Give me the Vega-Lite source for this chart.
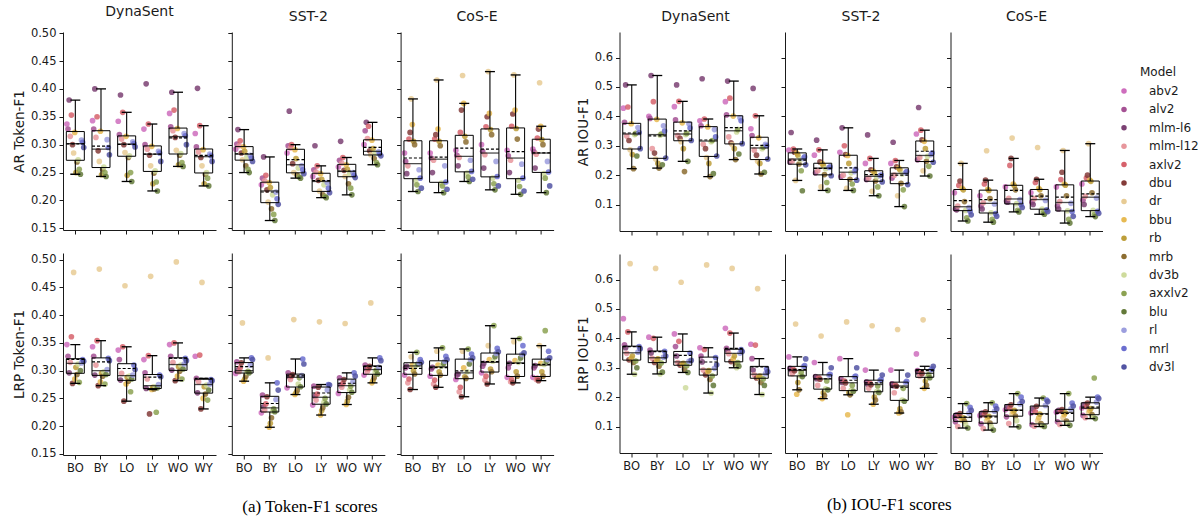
{
"$schema": "https://vega.github.io/schema/vega-lite/v6.json",
"padding": {"left": 12, "top": 5, "right": 3, "bottom": 3},
"background": "white",
"datasets": {
"tAR_Dyna": [
{"model":"abv2","BO":0.337,"BY":0.343,"LO":0.342,"LY":0.328,"WO":0.356,"WY":0.320},
{"model":"alv2","BO":0.328,"BY":0.328,"LO":0.318,"LY":0.300,"WO":0.332,"WY":0.296},
{"model":"mlm-l6","BO":0.380,"BY":0.400,"LO":0.389,"LY":0.409,"WO":0.394,"WY":0.401},
{"model":"mlm-l12","BO":0.315,"BY":0.313,"LO":0.310,"LY":0.292,"WO":0.325,"WY":0.287},
{"model":"axlv2","BO":0.353,"BY":0.350,"LO":0.358,"LY":0.337,"WO":0.362,"WY":0.334},
{"model":"dbu","BO":0.300,"BY":0.289,"LO":0.300,"LY":0.281,"WO":0.313,"WY":0.277},
{"model":"dr","BO":0.285,"BY":0.270,"LO":0.286,"LY":0.262,"WO":0.290,"WY":0.262},
{"model":"bbu","BO":0.322,"BY":0.324,"LO":0.315,"LY":0.297,"WO":0.329,"WY":0.291},
{"model":"rb","BO":0.250,"BY":0.246,"LO":0.245,"LY":0.230,"WO":0.264,"WY":0.230},
{"model":"mrb","BO":0.269,"BY":0.256,"LO":0.277,"LY":0.249,"WO":0.281,"WY":0.247},
{"model":"dv3b","BO":0.273,"BY":0.260,"LO":0.280,"LY":0.253,"WO":0.284,"WY":0.250},
{"model":"axxlv2","BO":0.256,"BY":0.250,"LO":0.250,"LY":0.233,"WO":0.268,"WY":0.240},
{"model":"blu","BO":0.247,"BY":0.243,"LO":0.234,"LY":0.217,"WO":0.261,"WY":0.226},
{"model":"rl","BO":0.308,"BY":0.309,"LO":0.305,"LY":0.288,"WO":0.320,"WY":0.283},
{"model":"mrl","BO":0.304,"BY":0.295,"LO":0.302,"LY":0.285,"WO":0.316,"WY":0.280},
{"model":"dv3l","BO":0.295,"BY":0.282,"LO":0.296,"LY":0.270,"WO":0.300,"WY":0.270}
],
"tAR_SST": [
{"model":"abv2","BO":0.292,"BY":0.228,"LO":0.285,"LY":0.243,"WO":0.260,"WY":0.300},
{"model":"alv2","BO":0.301,"BY":0.240,"LO":0.298,"LY":0.255,"WO":0.272,"WY":0.325},
{"model":"mlm-l6","BO":0.327,"BY":0.278,"LO":0.360,"LY":0.298,"WO":0.306,"WY":0.340},
{"model":"mlm-l12","BO":0.298,"BY":0.235,"LO":0.294,"LY":0.251,"WO":0.267,"WY":0.311},
{"model":"axlv2","BO":0.307,"BY":0.245,"LO":0.300,"LY":0.262,"WO":0.277,"WY":0.333},
{"model":"dbu","BO":0.285,"BY":0.219,"LO":0.266,"LY":0.236,"WO":0.254,"WY":0.289},
{"model":"dr","BO":0.273,"BY":0.197,"LO":0.250,"LY":0.217,"WO":0.243,"WY":0.282},
{"model":"bbu","BO":0.296,"BY":0.232,"LO":0.291,"LY":0.248,"WO":0.264,"WY":0.308},
{"model":"rb","BO":0.288,"BY":0.223,"LO":0.275,"LY":0.238,"WO":0.256,"WY":0.293},
{"model":"mrb","BO":0.262,"BY":0.185,"LO":0.245,"LY":0.210,"WO":0.230,"WY":0.275},
{"model":"dv3b","BO":0.278,"BY":0.210,"LO":0.258,"LY":0.228,"WO":0.248,"WY":0.285},
{"model":"axxlv2","BO":0.256,"BY":0.175,"LO":0.242,"LY":0.207,"WO":0.222,"WY":0.268},
{"model":"blu","BO":0.250,"BY":0.164,"LO":0.240,"LY":0.205,"WO":0.210,"WY":0.264},
{"model":"rl","BO":0.281,"BY":0.215,"LO":0.262,"LY":0.232,"WO":0.250,"WY":0.287},
{"model":"mrl","BO":0.276,"BY":0.203,"LO":0.255,"LY":0.222,"WO":0.245,"WY":0.283},
{"model":"dv3l","BO":0.270,"BY":0.193,"LO":0.248,"LY":0.214,"WO":0.241,"WY":0.280}
],
"tAR_CoSE": [
{"model":"abv2","BO":0.285,"BY":0.285,"LO":0.290,"LY":0.300,"WO":0.290,"WY":0.292},
{"model":"alv2","BO":0.270,"BY":0.276,"LO":0.281,"LY":0.288,"WO":0.280,"WY":0.287},
{"model":"mlm-l6","BO":0.248,"BY":0.250,"LO":0.262,"LY":0.258,"WO":0.250,"WY":0.258},
{"model":"mlm-l12","BO":0.262,"BY":0.272,"LO":0.277,"LY":0.282,"WO":0.272,"WY":0.283},
{"model":"axlv2","BO":0.310,"BY":0.310,"LO":0.322,"LY":0.332,"WO":0.333,"WY":0.312},
{"model":"dbu","BO":0.322,"BY":0.318,"LO":0.362,"LY":0.350,"WO":0.355,"WY":0.328},
{"model":"dr","BO":0.382,"BY":0.416,"LO":0.424,"LY":0.431,"WO":0.425,"WY":0.411},
{"model":"bbu","BO":0.336,"BY":0.328,"LO":0.374,"LY":0.356,"WO":0.362,"WY":0.333},
{"model":"rb","BO":0.306,"BY":0.306,"LO":0.315,"LY":0.327,"WO":0.329,"WY":0.309},
{"model":"mrb","BO":0.300,"BY":0.298,"LO":0.305,"LY":0.318,"WO":0.310,"WY":0.300},
{"model":"dv3b","BO":0.236,"BY":0.231,"LO":0.249,"LY":0.240,"WO":0.236,"WY":0.248},
{"model":"axxlv2","BO":0.228,"BY":0.226,"LO":0.242,"LY":0.230,"WO":0.225,"WY":0.240},
{"model":"blu","BO":0.216,"BY":0.214,"LO":0.234,"LY":0.219,"WO":0.211,"WY":0.214},
{"model":"rl","BO":0.255,"BY":0.262,"LO":0.272,"LY":0.270,"WO":0.265,"WY":0.270},
{"model":"mrl","BO":0.240,"BY":0.233,"LO":0.252,"LY":0.243,"WO":0.240,"WY":0.251},
{"model":"dv3l","BO":0.222,"BY":0.220,"LO":0.238,"LY":0.226,"WO":0.217,"WY":0.226}
],
"tLRP_Dyna": [
{"model":"abv2","BO":0.347,"BY":0.343,"LO":0.337,"LY":0.320,"WO":0.347,"WY":0.326},
{"model":"alv2","BO":0.326,"BY":0.326,"LO":0.320,"LY":0.296,"WO":0.326,"WY":0.286},
{"model":"mlm-l6","BO":0.296,"BY":0.292,"LO":0.283,"LY":0.268,"WO":0.301,"WY":0.260},
{"model":"mlm-l12","BO":0.315,"BY":0.310,"LO":0.295,"LY":0.285,"WO":0.315,"WY":0.280},
{"model":"axlv2","BO":0.361,"BY":0.354,"LO":0.343,"LY":0.327,"WO":0.350,"WY":0.328},
{"model":"dbu","BO":0.277,"BY":0.273,"LO":0.245,"LY":0.222,"WO":0.282,"WY":0.231},
{"model":"dr","BO":0.477,"BY":0.483,"LO":0.453,"LY":0.470,"WO":0.496,"WY":0.459},
{"model":"bbu","BO":0.285,"BY":0.280,"LO":0.276,"LY":0.266,"WO":0.290,"WY":0.250},
{"model":"rb","BO":0.306,"BY":0.295,"LO":0.288,"LY":0.270,"WO":0.307,"WY":0.271},
{"model":"mrb","BO":0.293,"BY":0.290,"LO":0.281,"LY":0.267,"WO":0.299,"WY":0.258},
{"model":"dv3b","BO":0.312,"BY":0.298,"LO":0.290,"LY":0.271,"WO":0.310,"WY":0.274},
{"model":"axxlv2","BO":0.279,"BY":0.276,"LO":0.262,"LY":0.225,"WO":0.285,"WY":0.247},
{"model":"blu","BO":0.300,"BY":0.293,"LO":0.285,"LY":0.269,"WO":0.303,"WY":0.265},
{"model":"rl","BO":0.314,"BY":0.302,"LO":0.292,"LY":0.275,"WO":0.312,"WY":0.276},
{"model":"mrl","BO":0.320,"BY":0.322,"LO":0.310,"LY":0.292,"WO":0.322,"WY":0.284},
{"model":"dv3l","BO":0.317,"BY":0.318,"LO":0.302,"LY":0.289,"WO":0.318,"WY":0.282}
],
"tLRP_SST": [
{"model":"abv2","BO":0.295,"BY":0.224,"LO":0.269,"LY":0.238,"WO":0.259,"WY":0.292},
{"model":"alv2","BO":0.316,"BY":0.256,"LO":0.296,"LY":0.272,"WO":0.287,"WY":0.310},
{"model":"mlm-l6","BO":0.301,"BY":0.235,"LO":0.289,"LY":0.254,"WO":0.274,"WY":0.303},
{"model":"mlm-l12","BO":0.298,"BY":0.229,"LO":0.284,"LY":0.247,"WO":0.270,"WY":0.299},
{"model":"axlv2","BO":0.305,"BY":0.240,"LO":0.290,"LY":0.258,"WO":0.277,"WY":0.304},
{"model":"dbu","BO":0.314,"BY":0.253,"LO":0.293,"LY":0.270,"WO":0.284,"WY":0.308},
{"model":"dr","BO":0.386,"BY":0.323,"LO":0.392,"LY":0.388,"WO":0.385,"WY":0.422},
{"model":"bbu","BO":0.281,"BY":0.198,"LO":0.257,"LY":0.220,"WO":0.239,"WY":0.278},
{"model":"rb","BO":0.285,"BY":0.205,"LO":0.260,"LY":0.228,"WO":0.245,"WY":0.282},
{"model":"mrb","BO":0.290,"BY":0.215,"LO":0.264,"LY":0.233,"WO":0.252,"WY":0.287},
{"model":"dv3b","BO":0.297,"BY":0.227,"LO":0.276,"LY":0.243,"WO":0.265,"WY":0.297},
{"model":"axxlv2","BO":0.299,"BY":0.231,"LO":0.287,"LY":0.250,"WO":0.272,"WY":0.301},
{"model":"blu","BO":0.296,"BY":0.226,"LO":0.271,"LY":0.240,"WO":0.261,"WY":0.294},
{"model":"rl","BO":0.310,"BY":0.248,"LO":0.291,"LY":0.265,"WO":0.280,"WY":0.306},
{"model":"mrl","BO":0.323,"BY":0.278,"LO":0.321,"LY":0.275,"WO":0.296,"WY":0.323},
{"model":"dv3l","BO":0.320,"BY":0.265,"LO":0.312,"LY":0.274,"WO":0.290,"WY":0.318}
],
"tLRP_CoSE": [
{"model":"abv2","BO":0.292,"BY":0.290,"LO":0.284,"LY":0.296,"WO":0.288,"WY":0.288},
{"model":"alv2","BO":0.305,"BY":0.303,"LO":0.292,"LY":0.308,"WO":0.305,"WY":0.305},
{"model":"mlm-l6","BO":0.308,"BY":0.306,"LO":0.294,"LY":0.313,"WO":0.313,"WY":0.309},
{"model":"mlm-l12","BO":0.278,"BY":0.276,"LO":0.262,"LY":0.283,"WO":0.280,"WY":0.284},
{"model":"axlv2","BO":0.285,"BY":0.283,"LO":0.270,"LY":0.290,"WO":0.284,"WY":0.286},
{"model":"dbu","BO":0.266,"BY":0.270,"LO":0.253,"LY":0.276,"WO":0.278,"WY":0.282},
{"model":"dr","BO":0.325,"BY":0.335,"LO":0.335,"LY":0.345,"WO":0.352,"WY":0.345},
{"model":"bbu","BO":0.310,"BY":0.310,"LO":0.305,"LY":0.320,"WO":0.318,"WY":0.313},
{"model":"rb","BO":0.300,"BY":0.298,"LO":0.289,"LY":0.303,"WO":0.298,"WY":0.298},
{"model":"mrb","BO":0.294,"BY":0.292,"LO":0.286,"LY":0.298,"WO":0.290,"WY":0.290},
{"model":"dv3b","BO":0.309,"BY":0.308,"LO":0.298,"LY":0.317,"WO":0.315,"WY":0.311},
{"model":"axxlv2","BO":0.333,"BY":0.341,"LO":0.339,"LY":0.381,"WO":0.358,"WY":0.372},
{"model":"blu","BO":0.312,"BY":0.313,"LO":0.312,"LY":0.325,"WO":0.323,"WY":0.317},
{"model":"rl","BO":0.314,"BY":0.317,"LO":0.320,"LY":0.331,"WO":0.329,"WY":0.320},
{"model":"mrl","BO":0.320,"BY":0.326,"LO":0.330,"LY":0.340,"WO":0.345,"WY":0.335},
{"model":"dv3l","BO":0.315,"BY":0.320,"LO":0.323,"LY":0.334,"WO":0.332,"WY":0.323}
],
"iAR_Dyna": [
{"model":"abv2","BO":0.428,"BY":0.400,"LO":0.433,"LY":0.385,"WO":0.450,"WY":0.358},
{"model":"alv2","BO":0.380,"BY":0.393,"LO":0.388,"LY":0.368,"WO":0.405,"WY":0.335},
{"model":"mlm-l6","BO":0.507,"BY":0.539,"LO":0.507,"LY":0.528,"WO":0.520,"WY":0.495},
{"model":"mlm-l12","BO":0.333,"BY":0.290,"LO":0.335,"LY":0.305,"WO":0.330,"WY":0.285},
{"model":"axlv2","BO":0.432,"BY":0.450,"LO":0.451,"LY":0.391,"WO":0.462,"WY":0.402},
{"model":"dbu","BO":0.318,"BY":0.275,"LO":0.325,"LY":0.290,"WO":0.310,"WY":0.268},
{"model":"dr","BO":0.286,"BY":0.255,"LO":0.314,"LY":0.260,"WO":0.304,"WY":0.247},
{"model":"bbu","BO":0.375,"BY":0.390,"LO":0.378,"LY":0.364,"WO":0.401,"WY":0.327},
{"model":"rb","BO":0.270,"BY":0.240,"LO":0.290,"LY":0.240,"WO":0.290,"WY":0.240},
{"model":"mrb","BO":0.222,"BY":0.224,"LO":0.212,"LY":0.195,"WO":0.253,"WY":0.204},
{"model":"dv3b","BO":0.338,"BY":0.336,"LO":0.338,"LY":0.314,"WO":0.347,"WY":0.290},
{"model":"axxlv2","BO":0.342,"BY":0.340,"LO":0.342,"LY":0.318,"WO":0.355,"WY":0.295},
{"model":"blu","BO":0.265,"BY":0.235,"LO":0.247,"LY":0.205,"WO":0.272,"WY":0.210},
{"model":"rl","BO":0.362,"BY":0.368,"LO":0.375,"LY":0.355,"WO":0.395,"WY":0.305},
{"model":"mrl","BO":0.345,"BY":0.350,"LO":0.360,"LY":0.330,"WO":0.385,"WY":0.300},
{"model":"dv3l","BO":0.290,"BY":0.258,"LO":0.318,"LY":0.265,"WO":0.307,"WY":0.255}
],
"iAR_SST": [
{"model":"abv2","BO":0.285,"BY":0.268,"LO":0.278,"LY":0.240,"WO":0.240,"WY":0.340},
{"model":"alv2","BO":0.245,"BY":0.208,"LO":0.195,"LY":0.185,"WO":0.190,"WY":0.252},
{"model":"mlm-l6","BO":0.345,"BY":0.319,"LO":0.361,"LY":0.337,"WO":0.312,"WY":0.430},
{"model":"mlm-l12","BO":0.248,"BY":0.215,"LO":0.200,"LY":0.190,"WO":0.200,"WY":0.260},
{"model":"axlv2","BO":0.289,"BY":0.286,"LO":0.300,"LY":0.257,"WO":0.250,"WY":0.353},
{"model":"dbu","BO":0.278,"BY":0.245,"LO":0.270,"LY":0.218,"WO":0.228,"WY":0.320},
{"model":"dr","BO":0.182,"BY":0.160,"LO":0.155,"LY":0.145,"WO":0.130,"WY":0.215},
{"model":"bbu","BO":0.275,"BY":0.239,"LO":0.267,"LY":0.214,"WO":0.224,"WY":0.315},
{"model":"rb","BO":0.268,"BY":0.233,"LO":0.240,"LY":0.208,"WO":0.218,"WY":0.290},
{"model":"mrb","BO":0.238,"BY":0.202,"LO":0.186,"LY":0.180,"WO":0.172,"WY":0.247},
{"model":"dv3b","BO":0.253,"BY":0.222,"LO":0.208,"LY":0.194,"WO":0.204,"WY":0.264},
{"model":"axxlv2","BO":0.215,"BY":0.175,"LO":0.170,"LY":0.160,"WO":0.150,"WY":0.230},
{"model":"blu","BO":0.147,"BY":0.148,"LO":0.148,"LY":0.130,"WO":0.093,"WY":0.197},
{"model":"rl","BO":0.257,"BY":0.226,"LO":0.212,"LY":0.198,"WO":0.208,"WY":0.270},
{"model":"mrl","BO":0.262,"BY":0.228,"LO":0.220,"LY":0.200,"WO":0.212,"WY":0.275},
{"model":"dv3l","BO":0.235,"BY":0.198,"LO":0.183,"LY":0.177,"WO":0.168,"WY":0.244}
],
"iAR_CoSE": [
{"model":"abv2","BO":0.140,"BY":0.130,"LO":0.160,"LY":0.140,"WO":0.160,"WY":0.170},
{"model":"alv2","BO":0.085,"BY":0.095,"LO":0.112,"LY":0.108,"WO":0.095,"WY":0.115},
{"model":"mlm-l6","BO":0.082,"BY":0.085,"LO":0.108,"LY":0.100,"WO":0.085,"WY":0.100},
{"model":"mlm-l12","BO":0.095,"BY":0.106,"LO":0.121,"LY":0.120,"WO":0.110,"WY":0.128},
{"model":"axlv2","BO":0.165,"BY":0.170,"LO":0.233,"LY":0.175,"WO":0.185,"WY":0.190},
{"model":"dbu","BO":0.180,"BY":0.183,"LO":0.257,"LY":0.186,"WO":0.210,"WY":0.200},
{"model":"dr","BO":0.240,"BY":0.283,"LO":0.326,"LY":0.294,"WO":0.284,"WY":0.307},
{"model":"bbu","BO":0.155,"BY":0.152,"LO":0.170,"LY":0.155,"WO":0.170,"WY":0.183},
{"model":"rb","BO":0.150,"BY":0.148,"LO":0.164,"LY":0.150,"WO":0.166,"WY":0.179},
{"model":"mrb","BO":0.110,"BY":0.120,"LO":0.150,"LY":0.130,"WO":0.130,"WY":0.140},
{"model":"dv3b","BO":0.080,"BY":0.072,"LO":0.103,"LY":0.085,"WO":0.079,"WY":0.080},
{"model":"axxlv2","BO":0.055,"BY":0.050,"LO":0.080,"LY":0.072,"WO":0.050,"WY":0.065},
{"model":"blu","BO":0.044,"BY":0.040,"LO":0.075,"LY":0.067,"WO":0.037,"WY":0.059},
{"model":"rl","BO":0.090,"BY":0.102,"LO":0.117,"LY":0.114,"WO":0.104,"WY":0.122},
{"model":"mrl","BO":0.077,"BY":0.069,"LO":0.100,"LY":0.082,"WO":0.076,"WY":0.077},
{"model":"dv3l","BO":0.065,"BY":0.060,"LO":0.090,"LY":0.076,"WO":0.060,"WY":0.070}
],
"iLRP_Dyna": [
{"model":"abv2","BO":0.467,"BY":0.404,"LO":0.415,"LY":0.368,"WO":0.434,"WY":0.380},
{"model":"alv2","BO":0.378,"BY":0.360,"LO":0.372,"LY":0.340,"WO":0.366,"WY":0.331},
{"model":"mlm-l6","BO":0.368,"BY":0.350,"LO":0.340,"LY":0.320,"WO":0.358,"WY":0.292},
{"model":"mlm-l12","BO":0.349,"BY":0.332,"LO":0.318,"LY":0.292,"WO":0.348,"WY":0.276},
{"model":"axlv2","BO":0.422,"BY":0.400,"LO":0.390,"LY":0.362,"WO":0.418,"WY":0.377},
{"model":"dbu","BO":0.327,"BY":0.318,"LO":0.309,"LY":0.276,"WO":0.321,"WY":0.265},
{"model":"dr","BO":0.654,"BY":0.638,"LO":0.591,"LY":0.650,"WO":0.638,"WY":0.569},
{"model":"bbu","BO":0.332,"BY":0.325,"LO":0.312,"LY":0.287,"WO":0.330,"WY":0.268},
{"model":"rb","BO":0.340,"BY":0.330,"LO":0.315,"LY":0.290,"WO":0.340,"WY":0.272},
{"model":"mrb","BO":0.318,"BY":0.305,"LO":0.295,"LY":0.260,"WO":0.310,"WY":0.250},
{"model":"dv3b","BO":0.278,"BY":0.279,"LO":0.232,"LY":0.214,"WO":0.300,"WY":0.209},
{"model":"axxlv2","BO":0.323,"BY":0.316,"LO":0.307,"LY":0.272,"WO":0.318,"WY":0.262},
{"model":"blu","BO":0.300,"BY":0.285,"LO":0.284,"LY":0.240,"WO":0.305,"WY":0.240},
{"model":"rl","BO":0.353,"BY":0.336,"LO":0.322,"LY":0.298,"WO":0.350,"WY":0.280},
{"model":"mrl","BO":0.372,"BY":0.356,"LO":0.350,"LY":0.335,"WO":0.362,"WY":0.296},
{"model":"dv3l","BO":0.365,"BY":0.340,"LO":0.325,"LY":0.310,"WO":0.355,"WY":0.286}
],
"iLRP_SST": [
{"model":"abv2","BO":0.337,"BY":0.318,"LO":0.331,"LY":0.292,"WO":0.292,"WY":0.347},
{"model":"alv2","BO":0.298,"BY":0.270,"LO":0.262,"LY":0.252,"WO":0.245,"WY":0.290},
{"model":"mlm-l6","BO":0.292,"BY":0.263,"LO":0.250,"LY":0.244,"WO":0.239,"WY":0.282},
{"model":"mlm-l12","BO":0.280,"BY":0.240,"LO":0.230,"LY":0.230,"WO":0.215,"WY":0.272},
{"model":"axlv2","BO":0.294,"BY":0.266,"LO":0.255,"LY":0.248,"WO":0.241,"WY":0.285},
{"model":"dbu","BO":0.290,"BY":0.261,"LO":0.248,"LY":0.242,"WO":0.237,"WY":0.280},
{"model":"dr","BO":0.449,"BY":0.408,"LO":0.456,"LY":0.443,"WO":0.430,"WY":0.463},
{"model":"bbu","BO":0.210,"BY":0.195,"LO":0.140,"LY":0.176,"WO":0.146,"WY":0.230},
{"model":"rb","BO":0.250,"BY":0.215,"LO":0.215,"LY":0.200,"WO":0.160,"WY":0.255},
{"model":"mrb","BO":0.225,"BY":0.205,"LO":0.208,"LY":0.190,"WO":0.150,"WY":0.240},
{"model":"dv3b","BO":0.273,"BY":0.228,"LO":0.223,"LY":0.219,"WO":0.190,"WY":0.268},
{"model":"axxlv2","BO":0.285,"BY":0.255,"LO":0.240,"LY":0.238,"WO":0.230,"WY":0.277},
{"model":"blu","BO":0.270,"BY":0.225,"LO":0.220,"LY":0.216,"WO":0.186,"WY":0.266},
{"model":"rl","BO":0.304,"BY":0.275,"LO":0.269,"LY":0.257,"WO":0.250,"WY":0.293},
{"model":"mrl","BO":0.307,"BY":0.278,"LO":0.272,"LY":0.260,"WO":0.254,"WY":0.296},
{"model":"dv3l","BO":0.330,"BY":0.300,"LO":0.300,"LY":0.275,"WO":0.275,"WY":0.305}
],
"iLRP_CoSE": [
{"model":"abv2","BO":0.132,"BY":0.137,"LO":0.157,"LY":0.146,"WO":0.149,"WY":0.163},
{"model":"alv2","BO":0.116,"BY":0.109,"LO":0.133,"LY":0.106,"WO":0.116,"WY":0.138},
{"model":"mlm-l6","BO":0.140,"BY":0.146,"LO":0.168,"LY":0.160,"WO":0.155,"WY":0.175},
{"model":"mlm-l12","BO":0.100,"BY":0.093,"LO":0.110,"LY":0.101,"WO":0.107,"WY":0.130},
{"model":"axlv2","BO":0.135,"BY":0.140,"LO":0.162,"LY":0.150,"WO":0.152,"WY":0.168},
{"model":"dbu","BO":0.144,"BY":0.150,"LO":0.174,"LY":0.169,"WO":0.158,"WY":0.180},
{"model":"dr","BO":0.122,"BY":0.120,"LO":0.142,"LY":0.120,"WO":0.130,"WY":0.148},
{"model":"bbu","BO":0.127,"BY":0.130,"LO":0.150,"LY":0.130,"WO":0.140,"WY":0.155},
{"model":"rb","BO":0.130,"BY":0.135,"LO":0.155,"LY":0.142,"WO":0.147,"WY":0.161},
{"model":"mrb","BO":0.118,"BY":0.112,"LO":0.136,"LY":0.110,"WO":0.119,"WY":0.141},
{"model":"dv3b","BO":0.108,"BY":0.100,"LO":0.120,"LY":0.103,"WO":0.110,"WY":0.133},
{"model":"axxlv2","BO":0.178,"BY":0.181,"LO":0.212,"LY":0.197,"WO":0.212,"WY":0.265},
{"model":"blu","BO":0.095,"BY":0.088,"LO":0.099,"LY":0.100,"WO":0.104,"WY":0.127},
{"model":"rl","BO":0.146,"BY":0.152,"LO":0.177,"LY":0.172,"WO":0.160,"WY":0.183},
{"model":"mrl","BO":0.165,"BY":0.170,"LO":0.200,"LY":0.190,"WO":0.180,"WY":0.200},
{"model":"dv3l","BO":0.155,"BY":0.160,"LO":0.185,"LY":0.185,"WO":0.170,"WY":0.195}
]
},
"hconcat": [
{"vconcat": [
 {"hconcat": [
  {"data":{"name":"tAR_Dyna"},"transform":[{"fold":["BO","BY","LO","LY","WO","WY"],"as":["cond","value"]}],"title":"DynaSent","width":153,"height":198,
   "encoding":{"x":{"field":"cond","type":"nominal","scale":{"paddingInner":0.3,"paddingOuter":0.13},"axis":{"title":null,"labels":false}},"y":{"field":"value","type":"quantitative","scale":{"domain":[0.147,0.502],"nice":false,"zero":false},"axis":{"title":"AR Token-F1","values":[0.15,0.2,0.25,0.3,0.35,0.4,0.45,0.5],"format":".2f"}}},
   "layer":[
    {"mark":"circle","encoding":{"color":{"field":"model","type":"nominal","sort":null,"title":"Model","legend":{"orient":"none","legendX":1055,"legendY":35}},"xOffset":{"field":"model","type":"nominal","sort":null}}},
    {"mark":"boxplot"},
    {"mark":{"type":"rule","strokeDash":[3,2],"color":"black","strokeWidth":1.2},"encoding":{"x":{"field":"cond","type":"nominal","bandPosition":0,"scale":{"paddingInner":0.3,"paddingOuter":0.13},"axis":{"title":null,"labels":false}},"x2":{"field":"cond","bandPosition":1},"y":{"aggregate":"mean","field":"value","type":"quantitative","scale":{"domain":[0.147,0.502],"nice":false,"zero":false},"axis":{"title":"AR Token-F1","values":[0.15,0.2,0.25,0.3,0.35,0.4,0.45,0.5],"format":".2f"}}}}
   ]},
  {"data":{"name":"tAR_SST"},"transform":[{"fold":["BO","BY","LO","LY","WO","WY"],"as":["cond","value"]}],"title":"SST-2","width":153,"height":198,
   "encoding":{"x":{"field":"cond","type":"nominal","scale":{"paddingInner":0.3,"paddingOuter":0.13},"axis":{"title":null,"labels":false}},"y":{"field":"value","type":"quantitative","scale":{"domain":[0.147,0.502],"nice":false,"zero":false},"axis":{"title":null,"labels":false,"values":[0.15,0.2,0.25,0.3,0.35,0.4,0.45,0.5]}}},
   "layer":[
    {"mark":"circle","encoding":{"color":{"field":"model","type":"nominal","sort":null,"title":"Model"},"xOffset":{"field":"model","type":"nominal","sort":null}}},
    {"mark":"boxplot"},
    {"mark":{"type":"rule","strokeDash":[3,2],"color":"black","strokeWidth":1.2},"encoding":{"x":{"field":"cond","type":"nominal","bandPosition":0,"scale":{"paddingInner":0.3,"paddingOuter":0.13},"axis":{"title":null,"labels":false}},"x2":{"field":"cond","bandPosition":1},"y":{"aggregate":"mean","field":"value","type":"quantitative","scale":{"domain":[0.147,0.502],"nice":false,"zero":false},"axis":{"title":null,"labels":false,"values":[0.15,0.2,0.25,0.3,0.35,0.4,0.45,0.5]}}}}
   ]},
  {"data":{"name":"tAR_CoSE"},"transform":[{"fold":["BO","BY","LO","LY","WO","WY"],"as":["cond","value"]}],"title":"CoS-E","width":153,"height":198,
   "encoding":{"x":{"field":"cond","type":"nominal","scale":{"paddingInner":0.3,"paddingOuter":0.13},"axis":{"title":null,"labels":false}},"y":{"field":"value","type":"quantitative","scale":{"domain":[0.147,0.502],"nice":false,"zero":false},"axis":{"title":null,"labels":false,"values":[0.15,0.2,0.25,0.3,0.35,0.4,0.45,0.5]}}},
   "layer":[
    {"mark":"circle","encoding":{"color":{"field":"model","type":"nominal","sort":null,"title":"Model"},"xOffset":{"field":"model","type":"nominal","sort":null}}},
    {"mark":"boxplot"},
    {"mark":{"type":"rule","strokeDash":[3,2],"color":"black","strokeWidth":1.2},"encoding":{"x":{"field":"cond","type":"nominal","bandPosition":0,"scale":{"paddingInner":0.3,"paddingOuter":0.13},"axis":{"title":null,"labels":false}},"x2":{"field":"cond","bandPosition":1},"y":{"aggregate":"mean","field":"value","type":"quantitative","scale":{"domain":[0.147,0.502],"nice":false,"zero":false},"axis":{"title":null,"labels":false,"values":[0.15,0.2,0.25,0.3,0.35,0.4,0.45,0.5]}}}}
   ]}
 ], "spacing": 10.8},
 {"hconcat": [
  {"data":{"name":"tLRP_Dyna"},"transform":[{"fold":["BO","BY","LO","LY","WO","WY"],"as":["cond","value"]}],"width":153,"height":202,
   "encoding":{"x":{"field":"cond","type":"nominal","scale":{"paddingInner":0.3,"paddingOuter":0.13},"axis":{"title":null}},"y":{"field":"value","type":"quantitative","scale":{"domain":[0.148,0.512],"nice":false,"zero":false},"axis":{"title":"LRP Token-F1","values":[0.15,0.2,0.25,0.3,0.35,0.4,0.45,0.5],"format":".2f"}}},
   "layer":[
    {"mark":"circle","encoding":{"color":{"field":"model","type":"nominal","sort":null,"title":"Model"},"xOffset":{"field":"model","type":"nominal","sort":null}}},
    {"mark":"boxplot"},
    {"mark":{"type":"rule","strokeDash":[3,2],"color":"black","strokeWidth":1.2},"encoding":{"x":{"field":"cond","type":"nominal","bandPosition":0,"scale":{"paddingInner":0.3,"paddingOuter":0.13},"axis":{"title":null}},"x2":{"field":"cond","bandPosition":1},"y":{"aggregate":"mean","field":"value","type":"quantitative","scale":{"domain":[0.148,0.512],"nice":false,"zero":false},"axis":{"title":"LRP Token-F1","values":[0.15,0.2,0.25,0.3,0.35,0.4,0.45,0.5],"format":".2f"}}}}
   ]},
  {"data":{"name":"tLRP_SST"},"transform":[{"fold":["BO","BY","LO","LY","WO","WY"],"as":["cond","value"]}],"width":153,"height":202,
   "encoding":{"x":{"field":"cond","type":"nominal","scale":{"paddingInner":0.3,"paddingOuter":0.13},"axis":{"title":null}},"y":{"field":"value","type":"quantitative","scale":{"domain":[0.148,0.512],"nice":false,"zero":false},"axis":{"title":null,"labels":false,"values":[0.15,0.2,0.25,0.3,0.35,0.4,0.45,0.5]}}},
   "layer":[
    {"mark":"circle","encoding":{"color":{"field":"model","type":"nominal","sort":null,"title":"Model"},"xOffset":{"field":"model","type":"nominal","sort":null}}},
    {"mark":"boxplot"},
    {"mark":{"type":"rule","strokeDash":[3,2],"color":"black","strokeWidth":1.2},"encoding":{"x":{"field":"cond","type":"nominal","bandPosition":0,"scale":{"paddingInner":0.3,"paddingOuter":0.13},"axis":{"title":null}},"x2":{"field":"cond","bandPosition":1},"y":{"aggregate":"mean","field":"value","type":"quantitative","scale":{"domain":[0.148,0.512],"nice":false,"zero":false},"axis":{"title":null,"labels":false,"values":[0.15,0.2,0.25,0.3,0.35,0.4,0.45,0.5]}}}}
   ]},
  {"data":{"name":"tLRP_CoSE"},"transform":[{"fold":["BO","BY","LO","LY","WO","WY"],"as":["cond","value"]}],"width":153,"height":202,
   "encoding":{"x":{"field":"cond","type":"nominal","scale":{"paddingInner":0.3,"paddingOuter":0.13},"axis":{"title":null}},"y":{"field":"value","type":"quantitative","scale":{"domain":[0.148,0.512],"nice":false,"zero":false},"axis":{"title":null,"labels":false,"values":[0.15,0.2,0.25,0.3,0.35,0.4,0.45,0.5]}}},
   "layer":[
    {"mark":"circle","encoding":{"color":{"field":"model","type":"nominal","sort":null,"title":"Model"},"xOffset":{"field":"model","type":"nominal","sort":null}}},
    {"mark":"boxplot"},
    {"mark":{"type":"rule","strokeDash":[3,2],"color":"black","strokeWidth":1.2},"encoding":{"x":{"field":"cond","type":"nominal","bandPosition":0,"scale":{"paddingInner":0.3,"paddingOuter":0.13},"axis":{"title":null}},"x2":{"field":"cond","bandPosition":1},"y":{"aggregate":"mean","field":"value","type":"quantitative","scale":{"domain":[0.148,0.512],"nice":false,"zero":false},"axis":{"title":null,"labels":false,"values":[0.15,0.2,0.25,0.3,0.35,0.4,0.45,0.5]}}}}
   ]}
 ], "spacing": 10.8}
], "spacing": 18,
 "title": {"text":"(a) Token-F1 scores","orient":"bottom","anchor":"middle","frame":"bounds","font":"Liberation Serif","fontSize":17,"fontWeight":"normal","color":"black","offset":25,"dx":27}},
{"vconcat": [
 {"hconcat": [
  {"data":{"name":"iAR_Dyna"},"transform":[{"fold":["BO","BY","LO","LY","WO","WY"],"as":["cond","value"]}],"title":"DynaSent","width":152,"height":199,
   "encoding":{"x":{"field":"cond","type":"nominal","scale":{"paddingInner":0.3,"paddingOuter":0.13},"axis":{"title":null,"labels":false}},"y":{"field":"value","type":"quantitative","scale":{"domain":[0.01,0.687],"nice":false,"zero":false},"axis":{"title":"AR IOU-F1","values":[0.1,0.2,0.3,0.4,0.5,0.6],"format":".1f"}}},
   "layer":[
    {"mark":"circle","encoding":{"color":{"field":"model","type":"nominal","sort":null,"title":"Model"},"xOffset":{"field":"model","type":"nominal","sort":null}}},
    {"mark":"boxplot"},
    {"mark":{"type":"rule","strokeDash":[3,2],"color":"black","strokeWidth":1.2},"encoding":{"x":{"field":"cond","type":"nominal","bandPosition":0,"scale":{"paddingInner":0.3,"paddingOuter":0.13},"axis":{"title":null,"labels":false}},"x2":{"field":"cond","bandPosition":1},"y":{"aggregate":"mean","field":"value","type":"quantitative","scale":{"domain":[0.01,0.687],"nice":false,"zero":false},"axis":{"title":"AR IOU-F1","values":[0.1,0.2,0.3,0.4,0.5,0.6],"format":".1f"}}}}
   ]},
  {"data":{"name":"iAR_SST"},"transform":[{"fold":["BO","BY","LO","LY","WO","WY"],"as":["cond","value"]}],"title":"SST-2","width":152,"height":199,
   "encoding":{"x":{"field":"cond","type":"nominal","scale":{"paddingInner":0.3,"paddingOuter":0.13},"axis":{"title":null,"labels":false}},"y":{"field":"value","type":"quantitative","scale":{"domain":[0.01,0.687],"nice":false,"zero":false},"axis":{"title":null,"labels":false,"values":[0.1,0.2,0.3,0.4,0.5,0.6]}}},
   "layer":[
    {"mark":"circle","encoding":{"color":{"field":"model","type":"nominal","sort":null,"title":"Model"},"xOffset":{"field":"model","type":"nominal","sort":null}}},
    {"mark":"boxplot"},
    {"mark":{"type":"rule","strokeDash":[3,2],"color":"black","strokeWidth":1.2},"encoding":{"x":{"field":"cond","type":"nominal","bandPosition":0,"scale":{"paddingInner":0.3,"paddingOuter":0.13},"axis":{"title":null,"labels":false}},"x2":{"field":"cond","bandPosition":1},"y":{"aggregate":"mean","field":"value","type":"quantitative","scale":{"domain":[0.01,0.687],"nice":false,"zero":false},"axis":{"title":null,"labels":false,"values":[0.1,0.2,0.3,0.4,0.5,0.6]}}}}
   ]},
  {"data":{"name":"iAR_CoSE"},"transform":[{"fold":["BO","BY","LO","LY","WO","WY"],"as":["cond","value"]}],"title":"CoS-E","width":152,"height":199,
   "encoding":{"x":{"field":"cond","type":"nominal","scale":{"paddingInner":0.3,"paddingOuter":0.13},"axis":{"title":null,"labels":false}},"y":{"field":"value","type":"quantitative","scale":{"domain":[0.01,0.687],"nice":false,"zero":false},"axis":{"title":null,"labels":false,"values":[0.1,0.2,0.3,0.4,0.5,0.6]}}},
   "layer":[
    {"mark":"circle","encoding":{"color":{"field":"model","type":"nominal","sort":null,"title":"Model"},"xOffset":{"field":"model","type":"nominal","sort":null}}},
    {"mark":"boxplot"},
    {"mark":{"type":"rule","strokeDash":[3,2],"color":"black","strokeWidth":1.2},"encoding":{"x":{"field":"cond","type":"nominal","bandPosition":0,"scale":{"paddingInner":0.3,"paddingOuter":0.13},"axis":{"title":null,"labels":false}},"x2":{"field":"cond","bandPosition":1},"y":{"aggregate":"mean","field":"value","type":"quantitative","scale":{"domain":[0.01,0.687],"nice":false,"zero":false},"axis":{"title":null,"labels":false,"values":[0.1,0.2,0.3,0.4,0.5,0.6]}}}}
   ]}
 ], "spacing": 8.5},
 {"hconcat": [
  {"data":{"name":"iLRP_Dyna"},"transform":[{"fold":["BO","BY","LO","LY","WO","WY"],"as":["cond","value"]}],"width":152,"height":199,
   "encoding":{"x":{"field":"cond","type":"nominal","scale":{"paddingInner":0.3,"paddingOuter":0.13},"axis":{"title":null}},"y":{"field":"value","type":"quantitative","scale":{"domain":[0.01,0.687],"nice":false,"zero":false},"axis":{"title":"LRP IOU-F1","values":[0.1,0.2,0.3,0.4,0.5,0.6],"format":".1f"}}},
   "layer":[
    {"mark":"circle","encoding":{"color":{"field":"model","type":"nominal","sort":null,"title":"Model"},"xOffset":{"field":"model","type":"nominal","sort":null}}},
    {"mark":"boxplot"},
    {"mark":{"type":"rule","strokeDash":[3,2],"color":"black","strokeWidth":1.2},"encoding":{"x":{"field":"cond","type":"nominal","bandPosition":0,"scale":{"paddingInner":0.3,"paddingOuter":0.13},"axis":{"title":null}},"x2":{"field":"cond","bandPosition":1},"y":{"aggregate":"mean","field":"value","type":"quantitative","scale":{"domain":[0.01,0.687],"nice":false,"zero":false},"axis":{"title":"LRP IOU-F1","values":[0.1,0.2,0.3,0.4,0.5,0.6],"format":".1f"}}}}
   ]},
  {"data":{"name":"iLRP_SST"},"transform":[{"fold":["BO","BY","LO","LY","WO","WY"],"as":["cond","value"]}],"width":152,"height":199,
   "encoding":{"x":{"field":"cond","type":"nominal","scale":{"paddingInner":0.3,"paddingOuter":0.13},"axis":{"title":null}},"y":{"field":"value","type":"quantitative","scale":{"domain":[0.01,0.687],"nice":false,"zero":false},"axis":{"title":null,"labels":false,"values":[0.1,0.2,0.3,0.4,0.5,0.6]}}},
   "layer":[
    {"mark":"circle","encoding":{"color":{"field":"model","type":"nominal","sort":null,"title":"Model"},"xOffset":{"field":"model","type":"nominal","sort":null}}},
    {"mark":"boxplot"},
    {"mark":{"type":"rule","strokeDash":[3,2],"color":"black","strokeWidth":1.2},"encoding":{"x":{"field":"cond","type":"nominal","bandPosition":0,"scale":{"paddingInner":0.3,"paddingOuter":0.13},"axis":{"title":null}},"x2":{"field":"cond","bandPosition":1},"y":{"aggregate":"mean","field":"value","type":"quantitative","scale":{"domain":[0.01,0.687],"nice":false,"zero":false},"axis":{"title":null,"labels":false,"values":[0.1,0.2,0.3,0.4,0.5,0.6]}}}}
   ]},
  {"data":{"name":"iLRP_CoSE"},"transform":[{"fold":["BO","BY","LO","LY","WO","WY"],"as":["cond","value"]}],"width":152,"height":199,
   "encoding":{"x":{"field":"cond","type":"nominal","scale":{"paddingInner":0.3,"paddingOuter":0.13},"axis":{"title":null}},"y":{"field":"value","type":"quantitative","scale":{"domain":[0.01,0.687],"nice":false,"zero":false},"axis":{"title":null,"labels":false,"values":[0.1,0.2,0.3,0.4,0.5,0.6]}}},
   "layer":[
    {"mark":"circle","encoding":{"color":{"field":"model","type":"nominal","sort":null,"title":"Model"},"xOffset":{"field":"model","type":"nominal","sort":null}}},
    {"mark":"boxplot"},
    {"mark":{"type":"rule","strokeDash":[3,2],"color":"black","strokeWidth":1.2},"encoding":{"x":{"field":"cond","type":"nominal","bandPosition":0,"scale":{"paddingInner":0.3,"paddingOuter":0.13},"axis":{"title":null}},"x2":{"field":"cond","bandPosition":1},"y":{"aggregate":"mean","field":"value","type":"quantitative","scale":{"domain":[0.01,0.687],"nice":false,"zero":false},"axis":{"title":null,"labels":false,"values":[0.1,0.2,0.3,0.4,0.5,0.6]}}}}
   ]}
 ], "spacing": 8.5}
], "spacing": 18,
 "title": {"text":"(b) IOU-F1 scores","orient":"bottom","anchor":"middle","frame":"bounds","font":"Liberation Serif","fontSize":17,"fontWeight":"normal","color":"black","offset":25,"dx":50}}
],
"spacing": 21.5,
"config": {
 "font": "DejaVu Sans",
 "view": {"stroke": null},
 "range": {"category": ["#ce6dbd","#a55194","#7b4173","#e7969c","#d6616b","#843c39","#e7cb94","#e7ba52","#bd9e39","#8c6d31","#cedb9c","#8ca252","#637939","#9c9ede","#6b6ecf","#5254a3"]},
 "axis": {"grid": false, "domainColor": "#1a1a1a", "tickColor": "#1a1a1a", "labelColor": "#1a1a1a", "titleColor": "#1a1a1a", "labelFont": "DejaVu Sans", "titleFont": "DejaVu Sans", "labelFontSize": 11.5, "titleFontSize": 13.5, "titleFontWeight": "normal", "tickSize": 4, "labelPadding": 3, "titlePadding": 4, "domainWidth": 1, "tickWidth": 1},
 "axisX": {"labelAngle": 0},
 "title": {"font": "DejaVu Sans", "fontSize": 14, "fontWeight": "normal", "color": "#1a1a1a", "offset": 8, "frame": "group"},
 "circle": {"size": 32, "opacity": 0.85},
 "boxplot": {"extent": 1.5, "size": 18, "outliers": false,
   "box": {"fill": "white", "fillOpacity": 0, "stroke": "black", "strokeWidth": 1},
   "median": {"color": "black", "thickness": 1.3},
   "rule": {"color": "black", "strokeWidth": 1.1},
   "ticks": {"color": "black", "size": 10, "thickness": 1.3}},
 "legend": {"titleFontSize": 12, "titleFontWeight": "normal", "titleColor": "#1a1a1a", "labelFontSize": 12, "labelColor": "#1a1a1a", "symbolSize": 30, "symbolType": "circle", "rowPadding": 6.4, "labelOffset": 19, "titleAnchor": "middle", "titlePadding": 6, "symbolStrokeWidth": 0}
}
}
